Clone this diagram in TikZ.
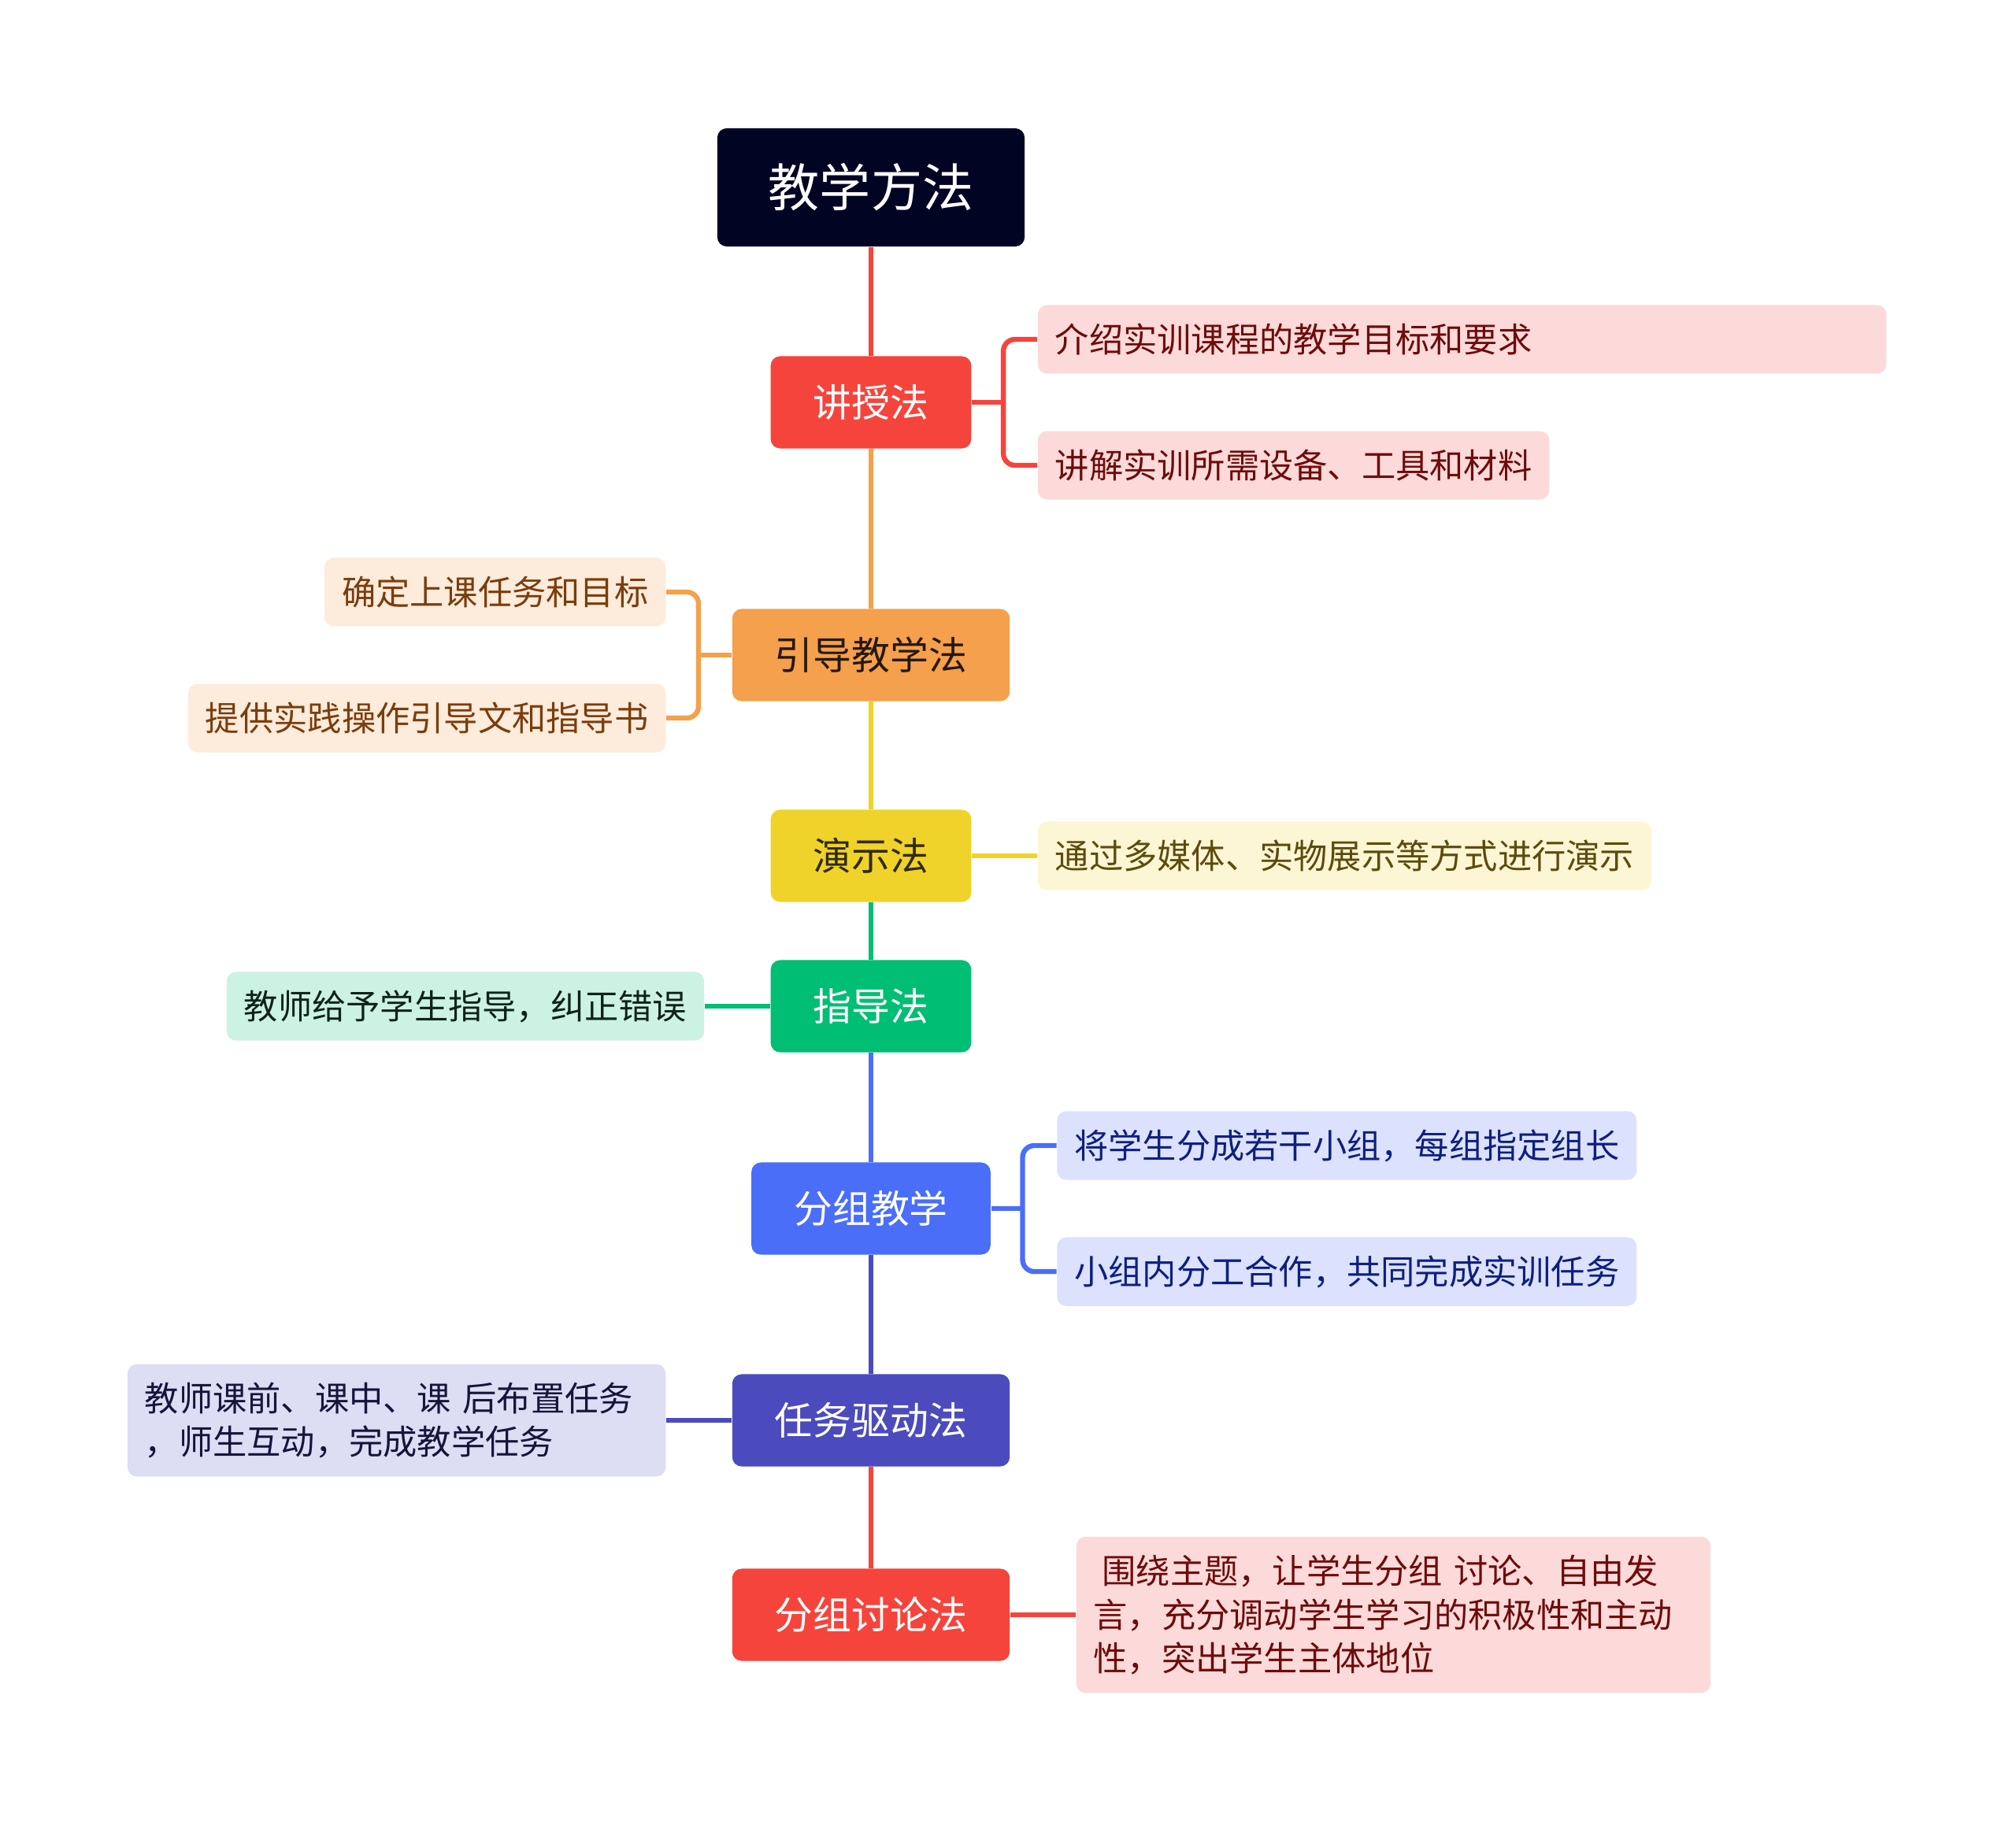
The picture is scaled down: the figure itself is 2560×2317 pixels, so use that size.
\documentclass[tikz,border=0pt]{standalone}
\usepackage{fontspec}
\newfontfamily\cjk{Noto Sans CJK SC}
\usetikzlibrary{positioning}
\definecolor{rootc}{HTML}{020424}
\definecolor{redc}{HTML}{F5443C}
\definecolor{orangec}{HTML}{F4A04C}
\definecolor{yellowc}{HTML}{F0D32A}
\definecolor{greenc}{HTML}{00BE73}
\definecolor{bluec}{HTML}{4A6EF8}
\definecolor{indigoc}{HTML}{4B4BBE}
\definecolor{redleaf}{HTML}{FDDADA}
\definecolor{orangeleaf}{HTML}{FDEBDB}
\definecolor{yellowleaf}{HTML}{FDF6D4}
\definecolor{greenleaf}{HTML}{CCF2E3}
\definecolor{blueleaf}{HTML}{DCE2FD}
\definecolor{indigoleaf}{HTML}{DDDDF3}
\definecolor{redtext}{HTML}{6E0B0B}
\definecolor{orangetext}{HTML}{7A3D0C}
\definecolor{yellowtext}{HTML}{5C4B0C}
\definecolor{greentext}{HTML}{0F2219}
\definecolor{bluetext}{HTML}{0E1F80}
\definecolor{indigotext}{HTML}{15153C}
\tikzset{
  rootbox/.style={fill=rootc, text=white, rounded corners=3.4pt, inner xsep=0.65cm, minimum height=1.5cm, font=\cjk\fontsize{18.5}{22}\selectfont},
  mainbox/.style={rounded corners=3.4pt, text=white, inner xsep=0.54cm, minimum height=1.17cm, font=\cjk\fontsize{13.9}{17}\selectfont},
  leaf/.style={rounded corners=3.4pt, inner xsep=0.22cm, inner ysep=0.23cm, minimum height=0.87cm, align=left, font=\cjk\fontsize{12.3}{15.8}\selectfont},
  link/.style={line width=1.8pt},
  fork/.style={link, rounded corners=0.15cm}}

\begin{document}
\begin{tikzpicture}[x=0.01cm, y=-0.01cm, node distance=0.83cm]
\useasboundingbox (0,0) rectangle (2560,2317);
% trunk
\node[rootbox] (root) at (1106,238) {教学方法};
\node[mainbox, fill=redc] (lecture) at (1106,511) {讲授法};
\node[mainbox, fill=orangec, text=black!85!orangec] (guide) at (1106,832) {引导教学法};
\node[mainbox, fill=yellowc, text=black!80!yellowc] (demo) at (1106,1087) {演示法};
\node[mainbox, fill=greenc] (coach) at (1106,1278) {指导法};
\node[mainbox, fill=bluec] (group) at (1106,1535) {分组教学};
\node[mainbox, fill=indigoc] (task) at (1106,1804) {任务驱动法};
\node[mainbox, fill=redc] (discuss) at (1106,2051) {分组讨论法};
\draw[link, redc] (root) -- (lecture);
\draw[link, orangec] (lecture) -- (guide);
\draw[link, yellowc] (guide) -- (demo);
\draw[link, greenc] (demo) -- (coach);
\draw[link, bluec] (coach) -- (group);
\draw[link, indigoc] (group) -- (task);
\draw[link, redc] (task) -- (discuss);

% leaves
\node[leaf, fill=redleaf, text=redtext, text width=10.33cm, right=of lecture, yshift=0.8cm] (lecture1) {介绍实训课程的教学目标和要求};
\node[leaf, fill=redleaf, text=redtext, right=of lecture, yshift=-0.8cm] (lecture2) {讲解实训所需设备、工具和材料};
\node[leaf, fill=orangeleaf, text=orangetext, left=of guide, yshift=0.8cm] (guide1) {确定上课任务和目标};
\node[leaf, fill=orangeleaf, text=orangetext, left=of guide, yshift=-0.8cm] (guide2) {提供实践操作引导文和指导书};
\node[leaf, fill=yellowleaf, text=yellowtext, right=of demo] (demo1) {通过多媒体、实物展示等方式进行演示};
\node[leaf, fill=greenleaf, text=greentext, left=of coach] (coach1) {教师给予学生指导，纠正错误};
\node[leaf, fill=blueleaf, text=bluetext, right=of group, yshift=0.8cm] (group1) {将学生分成若干小组，每组指定组长};
\node[leaf, fill=blueleaf, text=bluetext, right=of group, yshift=-0.8cm] (group2) {小组内分工合作，共同完成实训任务};
\node[leaf, fill=indigoleaf, text=indigotext, text width=6.39cm, left=of task] (task1) {教师课前、课中、课 后布置任务\\，师生互动，完成教学任务};
\node[leaf, fill=redleaf, text=redtext, text width=7.61cm, right=of discuss] (discuss1) {\hspace*{0.25em}围绕主题，让学生分组 讨论、自由发\\言，充分调动学生学习的积极性和主动\\性，突出学生主体地位};

% branches
\draw[link, redc] (lecture.east) -- ++(0.4cm,0) coordinate (lfork);
\draw[fork, redc] (lfork) |- (lecture1.west);
\draw[fork, redc] (lfork) |- (lecture2.west);
\draw[link, orangec] (guide.west) -- ++(-0.42cm,0) coordinate (gfork);
\draw[fork, orangec] (gfork) |- (guide1.east);
\draw[fork, orangec] (gfork) |- (guide2.east);
\draw[link, yellowc] (demo) -- (demo1);
\draw[link, greenc] (coach) -- (coach1);
\draw[link, bluec] (group.east) -- ++(0.4cm,0) coordinate (bfork);
\draw[fork, bluec] (bfork) |- (group1.west);
\draw[fork, bluec] (bfork) |- (group2.west);
\draw[link, indigoc] (task) -- (task1);
\draw[link, redc] (discuss) -- (discuss1);
\end{tikzpicture}
\end{document}
